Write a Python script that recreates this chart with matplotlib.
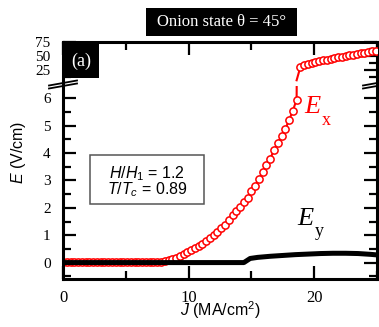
import matplotlib
matplotlib.use("Agg")
import matplotlib.pyplot as plt
from matplotlib.patches import Rectangle
from matplotlib.lines import Line2D

plt.rcParams['mathtext.fontset'] = 'custom'
plt.rcParams['mathtext.rm'] = 'Liberation Sans'
plt.rcParams['mathtext.it'] = 'Liberation Sans:italic'
plt.rcParams['mathtext.bf'] = 'Liberation Sans:bold'
plt.rcParams['mathtext.sf'] = 'Liberation Sans'

# E_x (open red circles)
j_ex = [0.0, 0.3, 0.6, 0.9, 1.2, 1.5, 1.8, 2.1, 2.4, 2.7, 3.0, 3.3, 3.6, 3.9,
        4.2, 4.5, 4.8, 5.1, 5.4, 5.7, 6.0, 6.3, 6.6, 6.9, 7.2, 7.5,
        7.8, 8.1, 8.4, 8.7, 9.0, 9.3, 9.6, 9.9, 10.2, 10.5, 10.8, 11.1, 11.4,
        11.7, 12.0, 12.3, 12.6, 12.9, 13.2, 13.5, 13.8, 14.1, 14.4, 14.7,
        15.0, 15.3, 15.6, 15.9, 16.2, 16.5, 16.8, 17.1, 17.4, 17.7, 18.0,
        18.3, 18.6,
        18.9, 19.2, 19.5, 19.8, 20.1, 20.4, 20.7, 21.0, 21.3, 21.6, 21.9,
        22.2, 22.5, 22.8, 23.1, 23.4, 23.7, 24.0, 24.3, 24.6, 24.9]
e_ex = [0.02, 0.02, 0.02, 0.02, 0.02, 0.02, 0.02, 0.02, 0.02, 0.02, 0.02,
        0.02, 0.02, 0.02, 0.02, 0.02, 0.02, 0.02, 0.02, 0.02, 0.02, 0.02,
        0.02, 0.02, 0.02, 0.02,
        0.03, 0.05, 0.08, 0.12, 0.17, 0.24, 0.31, 0.39, 0.46, 0.53, 0.60,
        0.68, 0.78, 0.88, 1.00, 1.12, 1.25, 1.39, 1.55, 1.72, 1.88, 2.04,
        2.20, 2.37, 2.60, 2.80, 3.05, 3.30, 3.56, 3.80, 4.10, 4.38, 4.62,
        4.88, 5.20, 5.55, 5.95,
        30.0, 33.0, 35.5, 37.5, 39.2, 40.8, 42.3, 43.7, 45.2, 46.5, 47.8,
        49.0, 50.2, 51.4, 52.6, 53.8, 55.0, 56.2, 57.4, 58.5, 59.6]

# E_y (thick black line)
j_ey = [0.0, 14.4, 14.9, 15.5, 16.5, 17.5, 18.5, 19.5, 20.5, 21.5, 22.5,
        23.5, 24.5, 25.0]
e_ey = [0.0, 0.0, 0.15, 0.19, 0.23, 0.26, 0.29, 0.31, 0.33, 0.34, 0.34,
        0.33, 0.30, 0.28]

# index of the last point below the axis break
jump = 62

W, H = 379, 327


def px(x, y):
    return x / W, 1 - y / H


fig = plt.figure(figsize=(W / 100, H / 100), dpi=100)
l, r = 63 / W, 377 / W
ax_top = fig.add_axes([l, 1 - 83 / H, r - l, (83 - 42) / H])
ax = fig.add_axes([l, 1 - 279 / H, r - l, (279 - 86) / H])

serif = 'Liberation Serif'

# lower panel
ax.plot(j_ex, e_ex, color='red', lw=1.5, marker='o', ms=5.2, mfc='white',
        mec='red', mew=1.1, zorder=2)
ax.plot(j_ey, e_ey, color='black', lw=3.6, solid_capstyle='butt', zorder=3)

# upper panel: only the part above the break
ax_top.plot(j_ex[jump:], e_ex[jump:], color='red', lw=1.5, zorder=2)
ax_top.plot(j_ex[jump + 1:], e_ex[jump + 1:], ls='none', marker='o', ms=5.2,
            mfc='white', mec='red', mew=1.1, zorder=3)

for a in (ax, ax_top):
    a.set_xlim(0, 25)
    for s in a.spines.values():
        s.set_linewidth(2.2)
    a.tick_params(which='both', direction='in', right=True, width=1.6,
                  labelsize=11, pad=9)
    a.tick_params(which='major', length=9.5)
    a.tick_params(which='minor', length=5.5)

ax.set_ylim(-0.6, 6.45)
ax.set_yticks(range(0, 7))
ax.set_yticks([-0.5, 0.5, 1.5, 2.5, 3.5, 4.5, 5.5], minor=True)
ax.set_xticks([0, 10, 20])
ax.set_xticks([5, 15, 25], minor=True)
ax.spines['top'].set_visible(False)
ax.tick_params(axis='x', labelsize=12, pad=8)
for t in ax.get_xticklabels() + ax.get_yticklabels():
    t.set_family(serif)

ax_top.set_ylim(1, 75.5)
ax_top.set_yticks([25, 50, 75])
ax_top.set_yticks([12.5, 37.5, 62.5], minor=True)
ax_top.set_xticks([0, 10, 20])
ax_top.set_xticks([5, 15, 25], minor=True)
ax_top.spines['bottom'].set_visible(False)
ax_top.tick_params(axis='x', which='both', bottom=False, top=True,
                   labelbottom=False)
for t in ax_top.get_yticklabels():
    t.set_family(serif)

# axis break marks
for xb in (63, 377):
    for yb in (83, 86):
        x0, y0 = px(xb - 14, yb + 2.5)
        x1, y1 = px(xb + 14, yb - 2.5)
        fig.add_artist(Line2D([x0, x1], [y0, y1], color='black', lw=1.3))

# axis labels
fig.text(*px(18, 152), r'$E$ (V/cm)', rotation=90, ha='center', va='center',
         family='Liberation Sans', fontsize=11.5)
fig.text(*px(220, 310), r'$J$ (MA/cm$^2$)', ha='center', va='center',
         family='Liberation Sans', fontsize=11.5)

# title box
x0, y0 = px(146, 36)
fig.add_artist(Rectangle((x0, y0), (297 - 146) / W, (36 - 8) / H,
                         facecolor='black', edgecolor='none'))
fig.text(*px(221.5, 22.5), 'Onion state θ = 45°', color='white',
         ha='center', va='center', family=serif, fontsize=12)

# (a) box
x0, y0 = px(63, 78)
fig.add_artist(Rectangle((x0, y0), 36 / W, 35 / H, facecolor='black',
                         edgecolor='none', zorder=5))
fig.text(*px(81, 61), '(a)', color='white', ha='center', va='center',
         family=serif, fontsize=13, zorder=6)

# parameter box
x0, y0 = px(90, 204)
fig.add_artist(Rectangle((x0, y0), (204 - 90) / W, (204 - 155) / H,
                         facecolor='white', edgecolor='#555555', lw=1.1))
fig.text(*px(147, 174), r'$H/H_1$ = 1.2', ha='center', va='center',
         family='Liberation Sans', fontsize=11.5)
fig.text(*px(147, 190), r'$T/T_c$ = 0.89', ha='center', va='center',
         family='Liberation Sans', fontsize=11.5)

# curve labels
fig.text(*px(304, 113), 'E', color='red', style='italic', family=serif,
         fontsize=19, ha='left', va='baseline')
fig.text(*px(322, 125), 'x', color='red', family=serif, fontsize=13,
         ha='left', va='baseline')
fig.text(*px(297, 225), 'E', color='black', style='italic', family=serif,
         fontsize=19, ha='left', va='baseline')
fig.text(*px(315, 236), 'y', color='black', family=serif, fontsize=13,
         ha='left', va='baseline')

fig.savefig('out.png', dpi=100)
